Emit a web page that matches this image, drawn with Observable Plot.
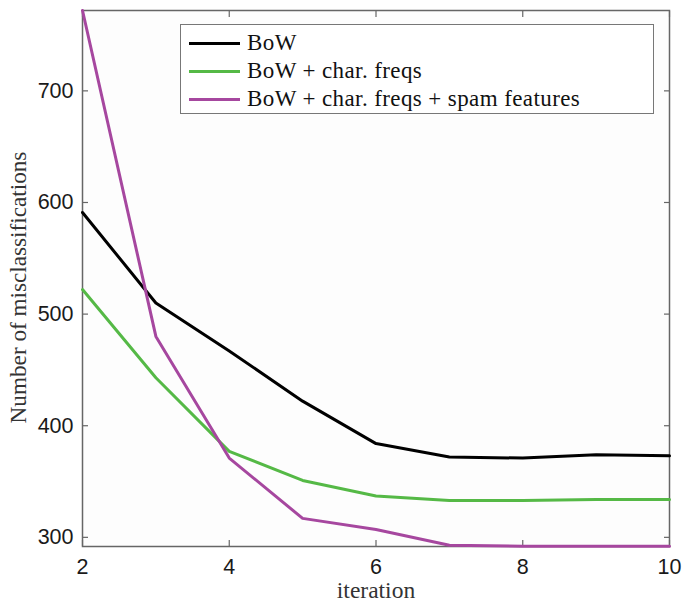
<!DOCTYPE html>
<html>
<head>
<meta charset="utf-8">
<script src="https://cdn.jsdelivr.net/npm/d3@7"></script>
<script src="https://cdn.jsdelivr.net/npm/@observablehq/plot@0.6"></script>
<style>
  html, body { margin: 0; padding: 0; background: #fff; }
  #wrap { position: relative; width: 682px; height: 601px; }
  #legend {
    position: absolute; left: 180px; top: 24px; width: 474px; height: 90px;
    border: 1.3px solid #777; background: #fff; box-sizing: border-box;
    font-family: "Liberation Serif", serif; font-size: 23px; letter-spacing: 0.4px; color: #111;
  }
  .item { position: absolute; left: 8px; height: 28px; display: flex; align-items: center; }
  .sw { width: 51px; height: 0; border-top: 3px solid; margin-right: 7px; }
</style>
</head>
<body>
<div id="wrap"><div id="chart"></div><div id="legend"></div></div>
<script>
const iterations = [2, 3, 4, 5, 6, 7, 8, 9, 10];
const seriesNames = ["BoW", "BoW + char. freqs", "BoW + char. freqs + spam features"];
const bow = [591, 510, 467, 422, 384, 372, 371, 374, 373];
const bowChar = [522, 443, 377, 351, 337, 333, 333, 334, 334];
const bowCharSpam = [772, 480, 371, 317, 307, 293, 292, 292, 292];
const colors = ["#000000", "#55b946", "#a6479f"];
const xTicks = [2, 4, 6, 8, 10];
const yTicks = [300, 400, 500, 600, 700];

const allSeries = [bow, bowChar, bowCharSpam];
const data = [];
allSeries.forEach((vals, s) => vals.forEach((v, i) => data.push({series: seriesNames[s], iteration: iterations[i], value: v})));

const tickStyle = {stroke: "#666", strokeWidth: 1.2};
const chart = Plot.plot({
  width: 682,
  height: 601,
  marginLeft: 82,
  marginRight: 13,
  marginTop: 10,
  marginBottom: 55,
  style: {fontFamily: "Liberation Sans, Arial, sans-serif", fontSize: "21px", color: "#1a1a1a", background: "#fff"},
  x: {domain: [2, 10]},
  y: {domain: [291.8, 772]},
  color: {domain: seriesNames, range: colors},
  marks: [
    Plot.frame({fill: "#fdfdfd"}),
    Plot.axisX({ticks: xTicks, tickSize: -6, tickFormat: () => "", ...tickStyle, label: null}),
    Plot.axisX({ticks: xTicks, anchor: "top", tickSize: -6, tickFormat: () => "", ...tickStyle, label: null}),
    Plot.axisY({ticks: yTicks, tickSize: -6, tickFormat: () => "", ...tickStyle, label: null}),
    Plot.axisY({ticks: yTicks, anchor: "right", tickSize: -6, tickFormat: () => "", ...tickStyle, label: null}),
    Plot.axisX({ticks: xTicks, tickSize: 0, tickPadding: 12, label: null, fontSize: 21.5}),
    Plot.axisY({ticks: yTicks, tickSize: 0, tickPadding: 9, label: null, fontSize: 21.5}),
    Plot.frame({stroke: "#666", strokeWidth: 1.5}),
    Plot.line(data, {x: "iteration", y: "value", z: "series", stroke: "series", strokeWidth: 3}),
    Plot.text(["iteration"], {frameAnchor: "bottom", dy: 51, fontFamily: "Liberation Serif, serif", fontSize: 23.5, fill: "#333"}),
    Plot.text(["Number of misclassifications"], {frameAnchor: "left", textAnchor: "middle", dx: -64, dy: 9, rotate: -90, fontFamily: "Liberation Serif, serif", fontSize: 23.2, fill: "#333"})
  ]
});
document.getElementById("chart").appendChild(chart);

const legend = document.getElementById("legend");
seriesNames.forEach((name, i) => {
  const it = document.createElement("div");
  it.className = "item";
  it.style.top = (4 + i * 28) + "px";
  const sw = document.createElement("span");
  sw.className = "sw";
  sw.style.borderColor = colors[i];
  const t = document.createElement("span");
  t.textContent = name;
  it.appendChild(sw); it.appendChild(t);
  legend.appendChild(it);
});
</script>
</body>
</html>
